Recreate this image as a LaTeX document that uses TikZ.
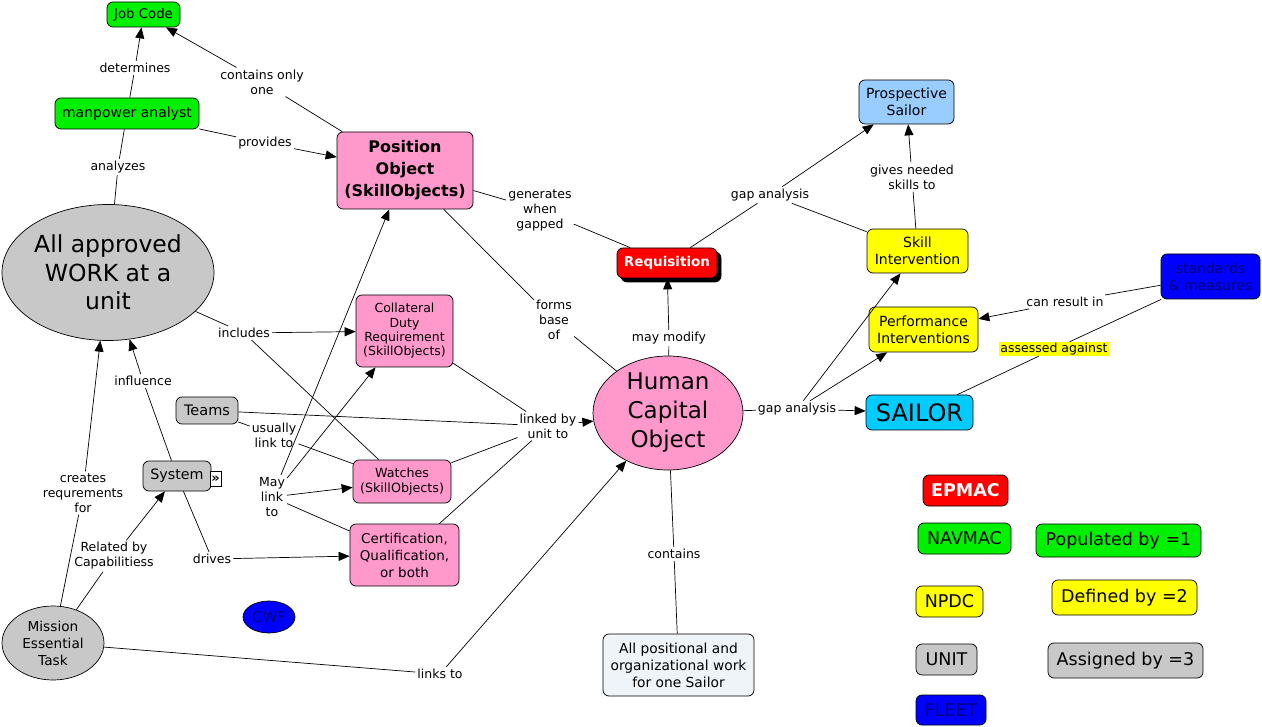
\documentclass[tikz,border=0pt]{standalone}
\usepackage{fontspec}
\setmainfont{DejaVu Sans}
\usetikzlibrary{arrows.meta,shapes.geometric,shadows}
\definecolor{cgreen}{RGB}{0,240,0}
\definecolor{cpink}{RGB}{255,153,204}
\definecolor{cgray}{RGB}{200,200,200}
\definecolor{cred}{RGB}{255,0,0}
\definecolor{cyell}{RGB}{255,255,0}
\definecolor{ccyan}{RGB}{0,204,255}
\definecolor{clblue}{RGB}{153,204,255}
\definecolor{cblue}{RGB}{0,0,255}
\definecolor{cnavy}{RGB}{0,0,120}
\definecolor{cpale}{RGB}{238,244,247}
\newcommand{\fs}[2]{\fontsize{#1}{#2}\selectfont}
\begin{document}
\begin{tikzpicture}[x=1pt,y=-1pt,
  box/.style={draw=black, rounded corners=6pt, inner sep=1pt, align=center, line width=0.7pt, font=\fs{14}{17}},
  ell/.style={draw=black, ellipse, inner sep=0pt, align=center, line width=0.7pt},
  lbl/.style={font=\fs{12.5}{15}, align=center, inner sep=2pt},
  leg/.style={box, font=\fs{17.5}{19}},
  ln/.style={line width=0.7pt},
  arr/.style={line width=0.7pt, -{Triangle[length=11pt,width=9pt]}}
]
\useasboundingbox (0,0) rectangle (1262,727);

% ---------- nodes ----------
\node[box, fill=cgreen, minimum width=73, minimum height=25, font=\fs{13.3}{15}] (job) at (143.5,14.5) {Job Code};
\node[box, fill=cgreen, minimum width=144, minimum height=31] (mpa) at (127,113.5) {manpower analyst};
\node[box, fill=cpink, minimum width=136, minimum height=77, font=\bfseries\fs{16}{22}] (po) at (405,170.5) {Position\\Object\\(SkillObjects)};
\node[ell, fill=cgray, minimum width=212, minimum height=136, font=\fs{23.5}{28.5}] (work) at (108,272.5) {All approved\\WORK at a\\unit};
\node[box, fill=cpink, minimum width=97, minimum height=72, font=\fs{12.5}{14.3}] (coll) at (404.5,331) {Collateral\\Duty\\Requirement\\(SkillObjects)};
\node[box, fill=cgray, minimum width=62, minimum height=27, font=\fs{14.5}{16}] (teams) at (207,410.5) {Teams};
\node[box, fill=cgray, minimum width=68, minimum height=30, font=\fs{14.3}{16}] (sys) at (177,476) {System};
\node[draw=black, fill=white, minimum width=11, minimum height=15, inner sep=0pt, font=\bfseries\fs{13}{13}] (sysicon) at (215.5,479) {»};
\node[box, fill=cpink, minimum width=98, minimum height=43, font=\fs{12.7}{15}] (watch) at (402,481.5) {Watches\\(SkillObjects)};
\node[box, fill=cpink, minimum width=109, minimum height=62, font=\fs{13.5}{17}] (cert) at (404.5,555) {Certification,\\Qualification,\\or both};
\node[ell, fill=cgray, minimum width=102, minimum height=74, font=\fs{13.7}{17}] (met) at (53,643) {Mission\\Essential\\Task};
\node[ell, fill=cblue, minimum width=52, minimum height=32, font=\fs{15}{16}, text=cnavy] (cwf) at (269,617) {CWF};
\node[ell, fill=cpink, minimum width=150, minimum height=114, font=\fs{23}{29}] (hco) at (668,413) {Human\\Capital\\Object};
\node[box, fill=cred, text=white, minimum width=100, minimum height=30, font=\bfseries\fs{13.5}{16},
  copy shadow={shadow xshift=4pt, shadow yshift=-4pt, fill=black, draw=black}] (req) at (667,263) {Requisition};
\node[box, fill=clblue, minimum width=95, minimum height=44] (pros) at (906.5,102) {Prospective\\Sailor};
\node[box, fill=cyell, minimum width=101, minimum height=44] (skill) at (917.5,251) {Skill\\Intervention};
\node[box, fill=cyell, minimum width=109, minimum height=45] (perf) at (923.5,329.5) {Performance\\Interventions};
\node[box, fill=ccyan, minimum width=107, minimum height=35, font=\fs{24}{26}] (sailor) at (919.5,412.5) {SAILOR};
\node[box, fill=cblue, text=cnavy, minimum width=99, minimum height=45] (std) at (1210.5,276.5) {standards\\\& measures};
\node[box, fill=cpale, minimum width=151, minimum height=62, font=\fs{13.8}{17}] (allpos) at (678.5,665) {All positional and\\organizational work\\for one Sailor};

% legend
\node[leg, fill=cred, text=white, minimum width=85, minimum height=31, font=\bfseries\fs{17.5}{19}] (epmac) at (965.5,490.5) {EPMAC};
\node[leg, fill=cgreen, minimum width=93, minimum height=31] (navmac) at (964.5,538.5) {NAVMAC};
\node[leg, fill=cgreen, minimum width=165, minimum height=33] (pop) at (1118.5,540.5) {Populated by =1};
\node[leg, fill=cyell, minimum width=67, minimum height=31] (npdc) at (949.5,601.5) {NPDC};
\node[leg, fill=cyell, minimum width=145, minimum height=35] (def) at (1124.5,597.5) {Defined by =2};
\node[leg, fill=cgray, minimum width=61, minimum height=31] (unit) at (946.5,659.5) {UNIT};
\node[leg, fill=cgray, minimum width=155, minimum height=35] (asg) at (1125.5,660.5) {Assigned by =3};
\node[leg, fill=cblue, text=cnavy, minimum width=70, minimum height=30] (fleet) at (951,710) {FLEET};

% ---------- labels ----------
\node[lbl] (l_det) at (135,68) {determines};
\node[lbl] (l_con1) at (262,82) {contains only\\one};
\node[lbl] (l_prov) at (265,143) {provides};
\node[lbl] (l_ana) at (118,167) {analyzes};
\node[lbl] (l_gen) at (540,210) {generates\\when\\gapped};
\node[lbl] (l_forms) at (554,320) {forms\\base\\of};
\node[lbl] (l_mod) at (669,338) {may modify};
\node[lbl] (l_gap1) at (770,195) {gap analysis};
\node[lbl] (l_gives) at (912,177) {gives needed\\skills to};
\node[lbl] (l_gap2) at (797,409) {gap analysis};
\node[lbl] (l_can) at (1065,302) {can result in};
\node[lbl, fill=cyell, inner sep=1pt] (l_ass) at (1054,349) {assessed against};
\node[lbl] (l_cont) at (674,554) {contains};
\node[lbl] (l_links) at (440,674) {links to};
\node[lbl] (l_inc) at (244,333) {includes};
\node[lbl] (l_lnk) at (548,426) {linked by\\unit to};
\node[lbl] (l_usu) at (274,435) {usually\\link to};
\node[lbl] (l_may) at (272,497) {May\\link\\to};
\node[lbl] (l_inf) at (143,381) {influence};
\node[lbl] (l_cre) at (83,493) {creates\\requrements\\for};
\node[lbl] (l_rel) at (114,556) {Related by\\Capabilitiess};
\node[lbl] (l_drv) at (212,559) {drives};

% ---------- connectors ----------
\draw[ln] (mpa) -- (l_det); \draw[arr] (l_det) -- (job);
\draw[ln] (po) -- (l_con1); \draw[arr] (l_con1) -- (job);
\draw[ln] (mpa) -- (l_prov); \draw[arr] (l_prov) -- (po);
\draw[ln] (mpa) -- (l_ana); \draw[ln] (l_ana) -- (work);
\draw[ln] (po) -- (l_gen); \draw[ln] (l_gen) -- (req);
\draw[ln] (po) -- (l_forms); \draw[ln] (l_forms) -- (hco);
\draw[ln] (hco) -- (l_mod); \draw[arr] (l_mod) -- (req);
\draw[ln] (req) -- (l_gap1); \draw[arr] (l_gap1) -- (pros); \draw[ln] (skill) -- (l_gap1);
\draw[ln] (skill) -- (l_gives); \draw[arr] (l_gives) -- (pros);
\draw[ln] (hco) -- (l_gap2); \draw[arr] (l_gap2) -- (sailor);
\draw[arr] (l_gap2) -- (skill); \draw[arr] (l_gap2) -- (perf);
\draw[ln] (std) -- (l_can); \draw[arr] (l_can) -- (perf);
\draw[ln] (sailor) -- (l_ass); \draw[ln] (l_ass) -- (std);
\draw[ln] (hco) -- (l_cont); \draw[ln] (l_cont) -- (allpos);
\draw[ln] (met) -- (l_links); \draw[arr] (l_links) -- (hco);
\draw[ln] (work) -- (l_inc); \draw[arr] (l_inc) -- (coll); \draw[ln] (l_inc) -- (watch);
\draw[ln] (teams) -- (l_lnk); \draw[ln] (coll) -- (l_lnk); \draw[ln] (watch) -- (l_lnk); \draw[ln] (cert) -- (l_lnk);
\draw[arr] (l_lnk) -- (hco);
\draw[ln] (teams) -- (l_usu); \draw[ln] (l_usu) -- (watch);
\draw[arr] (l_may) -- (po); \draw[arr] (l_may) -- (coll); \draw[arr] (l_may) -- (watch); \draw[ln] (l_may) -- (cert);
\draw[ln] (sys) -- (l_inf); \draw[arr] (l_inf) -- (work);
\draw[ln] (met) -- (l_cre); \draw[arr] (l_cre) -- (work);
\draw[ln] (met) -- (l_rel); \draw[arr] (l_rel) -- (sys);
\draw[ln] (sys) -- (l_drv); \draw[arr] (l_drv) -- (cert);
\end{tikzpicture}
\end{document}
